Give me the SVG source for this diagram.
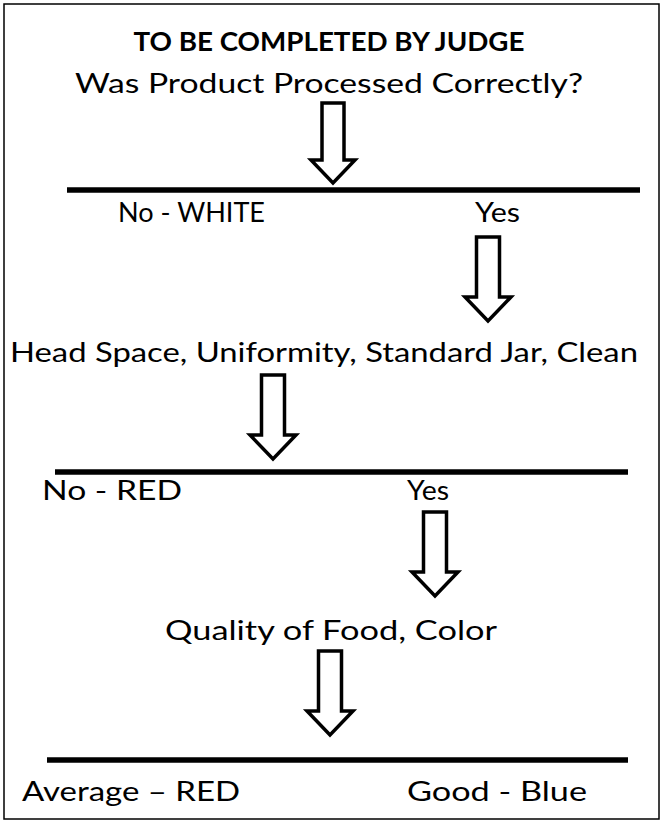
<svg xmlns="http://www.w3.org/2000/svg" width="663" height="823" viewBox="0 0 663 823">
<defs>
<style>
.t{font-family:"Lato","Open Sans","Liberation Sans",sans-serif;font-size:26px;fill:#000}
.b{font-weight:bold;font-size:27px}
.arr{fill:#fff;stroke:#000;stroke-width:3.5;stroke-linejoin:miter}
.ln{stroke:#000;stroke-width:5.5}
.sh{stroke:#bbb;stroke-width:4;filter:url(#blur)}
</style>
<filter id="blur" x="-5%" y="-200%" width="110%" height="500%"><feGaussianBlur stdDeviation="1.5"/></filter>
<polygon id="arrow" class="arr" points="-11,0 11,0 11,57 22,57 0,80 -22,57 -11,57"/>
<polygon id="arrowL" class="arr" points="-11.5,0 11.5,0 11.5,60 23,60 0,84 -23,60 -11.5,60"/>
</defs>
<rect x="4" y="4" width="655" height="815" fill="#fff" stroke="#000" stroke-width="1.5"/>
<g id="title"><text class="t b" x="329" y="51" text-anchor="middle" textLength="391" lengthAdjust="spacingAndGlyphs">TO BE COMPLETED BY JUDGE</text></g>
<g id="q1"><text class="t" x="329" y="93" text-anchor="middle" textLength="508" lengthAdjust="spacingAndGlyphs">Was Product Processed Correctly?</text></g>
<g id="q2"><text class="t" x="324" y="362" text-anchor="middle" textLength="628" lengthAdjust="spacingAndGlyphs">Head Space, Uniformity, Standard Jar, Clean</text></g>
<g id="q3"><text class="t" x="331" y="640" text-anchor="middle" textLength="332" lengthAdjust="spacingAndGlyphs">Quality of Food, Color</text></g>
<g id="l1no"><text class="t" x="118" y="222" textLength="147" lengthAdjust="spacingAndGlyphs">No - WHITE</text></g>
<g id="l1yes"><text class="t" x="475" y="222" textLength="45" lengthAdjust="spacingAndGlyphs">Yes</text></g>
<g id="l2no"><text class="t" x="42" y="500" textLength="140" lengthAdjust="spacingAndGlyphs">No - RED</text></g>
<g id="l2yes"><text class="t" x="407" y="500" textLength="42" lengthAdjust="spacingAndGlyphs">Yes</text></g>
<g id="avg"><text class="t" x="22" y="801" textLength="218" lengthAdjust="spacingAndGlyphs">Average – RED</text></g>
<g id="good"><text class="t" x="407" y="801" textLength="180" lengthAdjust="spacingAndGlyphs">Good - Blue</text></g>
<g id="connectors">
<line class="sh" x1="69" y1="194" x2="640" y2="194"/>
<line class="ln" x1="67" y1="190" x2="640" y2="190"/>
<line class="sh" x1="57" y1="476" x2="628" y2="476"/>
<line class="ln" x1="55" y1="472" x2="628" y2="472"/>
<line class="sh" x1="49" y1="764" x2="628" y2="764"/>
<line class="ln" x1="47" y1="760" x2="628" y2="760"/>
<use href="#arrow" x="333" y="103"/>
<use href="#arrowL" x="488" y="237"/>
<use href="#arrowL" x="273" y="375"/>
<use href="#arrowL" x="435" y="512"/>
<use href="#arrowL" x="330" y="651"/>
</g>
</svg>
